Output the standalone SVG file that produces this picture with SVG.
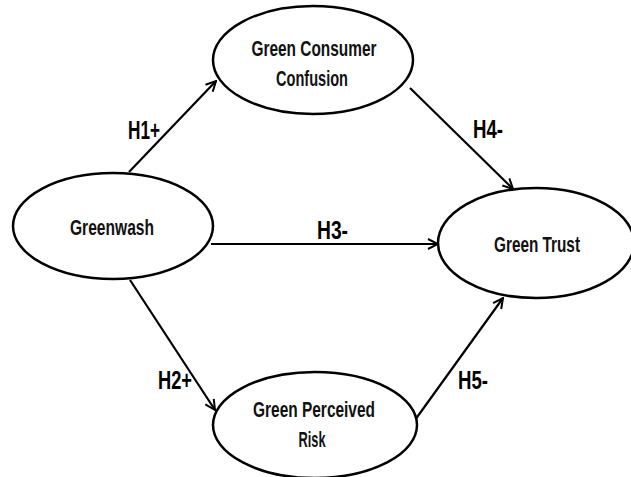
<svg xmlns="http://www.w3.org/2000/svg" width="631" height="477" viewBox="0 0 631 477">
<defs>
<marker id="arr" viewBox="0 0 12 12" refX="11" refY="6" markerWidth="12" markerHeight="12" markerUnits="userSpaceOnUse" orient="auto">
<path d="M1,1 L11,6 L1,11" fill="none" stroke="#000" stroke-width="2"/>
</marker>
</defs>
<style>
.node ellipse{fill:#fff;stroke:#000;stroke-width:2.5}
.node text{font-family:"Liberation Sans",Arial,sans-serif;font-weight:bold;font-size:22px;fill:#111;text-anchor:middle}
.edges line{stroke:#000;stroke-width:2.2;marker-end:url(#arr)}
.lbl{font-family:"Liberation Sans",Arial,sans-serif;font-weight:bold;font-size:26px;fill:#000}
</style>
<rect width="631" height="477" fill="#fff"/>
<g class="edges">
<line x1="129" y1="172" x2="216" y2="81"/>
<line x1="410" y1="88" x2="513" y2="189"/>
<line x1="211" y1="244" x2="438" y2="244"/>
<line x1="130" y1="280" x2="215" y2="410"/>
<line x1="415" y1="420" x2="503" y2="298"/>
<text class="lbl" x="128" y="139" textLength="32" lengthAdjust="spacingAndGlyphs">H1+</text>
<text class="lbl" x="473" y="138" textLength="30" lengthAdjust="spacingAndGlyphs">H4-</text>
<text class="lbl" x="317" y="239" textLength="31" lengthAdjust="spacingAndGlyphs">H3-</text>
<text class="lbl" x="158" y="389" textLength="34" lengthAdjust="spacingAndGlyphs">H2+</text>
<text class="lbl" x="458" y="389" textLength="30" lengthAdjust="spacingAndGlyphs">H5-</text>
</g>
<g id="n_confusion" class="node">
<ellipse cx="313" cy="60" rx="100" ry="54"/>
<text x="314" y="56" textLength="125" lengthAdjust="spacingAndGlyphs">Green Consumer</text>
<text x="312" y="86" textLength="72" lengthAdjust="spacingAndGlyphs">Confusion</text>
</g>
<g id="n_greenwash" class="node">
<ellipse cx="113" cy="226" rx="100" ry="53"/>
<text x="112" y="235" textLength="84" lengthAdjust="spacingAndGlyphs">Greenwash</text>
</g>
<g id="n_trust" class="node">
<ellipse cx="536" cy="243" rx="98" ry="55"/>
<text x="537" y="252" textLength="86" lengthAdjust="spacingAndGlyphs">Green Trust</text>
</g>
<g id="n_risk" class="node">
<ellipse cx="315" cy="425" rx="102" ry="53"/>
<text x="314" y="417" textLength="122" lengthAdjust="spacingAndGlyphs">Green Perceived</text>
<text x="312" y="447" textLength="27" lengthAdjust="spacingAndGlyphs">Risk</text>
</g>
</svg>
